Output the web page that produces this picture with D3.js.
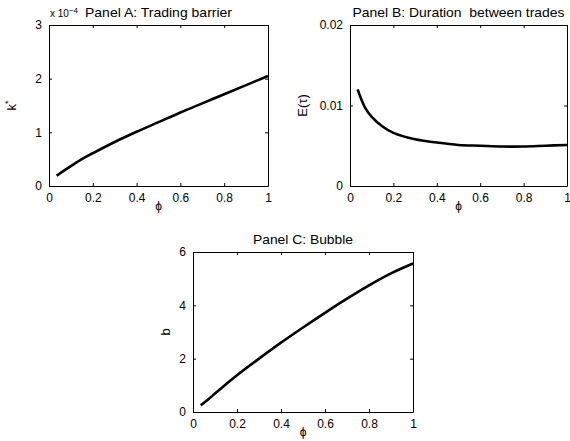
<!DOCTYPE html>
<html>
<head>
<meta charset="utf-8">
<script src="https://cdn.jsdelivr.net/npm/d3@7"></script>
<style>
  body { margin: 0; background: #fff; }
  svg text { font-family: "Liberation Sans", Arial, sans-serif; fill: #000; }
</style>
</head>
<body>
<div id="chart"></div>
<script>
// phi grid shared by all three panels
var phi = [0.035, 0.07, 0.1, 0.15, 0.2, 0.3, 0.4, 0.5, 0.6, 0.7, 0.8, 0.9, 1.0];

// Panel A: trading barrier k* (x 10^-4)
var kStar = [0.19, 0.29, 0.37, 0.50, 0.61, 0.82, 1.01, 1.19, 1.37, 1.54, 1.71, 1.88, 2.05];

// Panel B: expected duration between trades
var eTau = [0.0120, 0.0097, 0.0086, 0.0074, 0.0066, 0.0058, 0.0054, 0.0051, 0.0050, 0.0049, 0.0049, 0.0050, 0.0051];

// Panel C: bubble
var bubble = [0.25, 0.48, 0.69, 1.04, 1.38, 2.0, 2.6, 3.17, 3.72, 4.25, 4.75, 5.2, 5.57];

var xTicks = [0, 0.2, 0.4, 0.6, 0.8, 1];

var panels = [
  { title: "Panel A: Trading barrier", titleW: 147, y: kStar, yDomain: [0, 3], yTicks: [0, 1, 2, 3],
    fmt: d3.format("d"), box: {x0: 49, x1: 268, y0: 25, y1: 186}, ylab: "k", ylabX: 16, exp: true },
  { title: "Panel B: Duration  between trades", titleW: 212, y: eTau, yDomain: [0, 0.02], yTicks: [0, 0.01, 0.02],
    fmt: d => d == 0 ? "0" : d3.format(".2f")(d), box: {x0: 350, x1: 567, y0: 25, y1: 186}, ylab: "E(τ)", ylabX: 307 },
  { title: "Panel C: Bubble", titleW: 100, y: bubble, yDomain: [0, 6], yTicks: [0, 2, 4, 6],
    fmt: d3.format("d"), box: {x0: 193, x1: 413, y0: 252, y1: 412}, ylab: "b", ylabX: 170 }
];

var svg = d3.select("#chart").append("svg")
  .attr("width", 570)
  .attr("height", 441);

panels.forEach(function(p) {
  var b = p.box;
  var x = d3.scaleLinear().domain([0, 1]).range([b.x0, b.x1]);
  var y = d3.scaleLinear().domain(p.yDomain).range([b.y1, b.y0]);
  var g = svg.append("g");

  // matlab style box with inward ticks
  g.append("g").attr("transform", "translate(0," + b.y1 + ")")
    .call(d3.axisBottom(x).tickValues(xTicks).tickSizeInner(-3).tickSizeOuter(0).tickPadding(7)
      .tickFormat(d => d == 0 || d == 1 ? d3.format("d")(d) : d3.format(".1f")(d)));
  g.append("g").attr("transform", "translate(0," + b.y0 + ")")
    .call(d3.axisTop(x).tickValues(xTicks).tickSizeInner(-3).tickSizeOuter(0).tickFormat(""));
  g.append("g").attr("transform", "translate(" + b.x0 + ",0)")
    .call(d3.axisLeft(y).tickValues(p.yTicks).tickSizeInner(-3).tickSizeOuter(0).tickPadding(7).tickFormat(p.fmt));
  g.append("g").attr("transform", "translate(" + b.x1 + ",0)")
    .call(d3.axisRight(y).tickValues(p.yTicks).tickSizeInner(-3).tickSizeOuter(0).tickFormat(""));

  g.selectAll(".domain").attr("stroke", "#000").attr("stroke-width", 1);
  g.selectAll(".tick line").attr("stroke", "#000");
  g.selectAll(".tick text").attr("font-size", "12px")
    .attr("font-family", "Liberation Sans, Arial, sans-serif").attr("fill", "#000");

  g.append("path")
    .datum(phi.map((v, i) => [v, p.y[i]]))
    .attr("fill", "none")
    .attr("stroke", "#000")
    .attr("stroke-width", 2.6)
    .attr("stroke-linejoin", "round")
    .attr("d", d3.line().curve(d3.curveCatmullRom.alpha(0.5)).x(d => x(d[0])).y(d => y(d[1])));

  g.append("text")
    .attr("x", (b.x0 + b.x1) / 2)
    .attr("y", b.y0 - 8)
    .attr("text-anchor", "middle")
    .attr("font-size", "13px")
    .attr("textLength", p.titleW)
    .attr("lengthAdjust", "spacingAndGlyphs")
    .style("white-space", "pre")
    .text(p.title);

  g.append("text")
    .attr("x", (b.x0 + b.x1) / 2)
    .attr("y", b.y1 + 24)
    .attr("text-anchor", "middle")
    .attr("font-size", "12px")
    .text("ϕ");

  var yl = g.append("text")
    .attr("transform", "translate(" + p.ylabX + "," + ((b.y0 + b.y1) / 2) + ") rotate(-90)")
    .attr("text-anchor", "middle")
    .attr("font-size", "13px")
    .text(p.ylab);
  if (p.ylab == "k") yl.append("tspan").attr("dy", -5).attr("font-size", "9px").text("*");

  if (p.exp) {
    var e = g.append("text").attr("x", b.x0 + 1).attr("y", b.y0 - 8).attr("font-size", "10px").text("x 10");
    e.append("tspan").attr("dy", -4).attr("font-size", "8px").text("−4");
  }
});
</script>
</body>
</html>
